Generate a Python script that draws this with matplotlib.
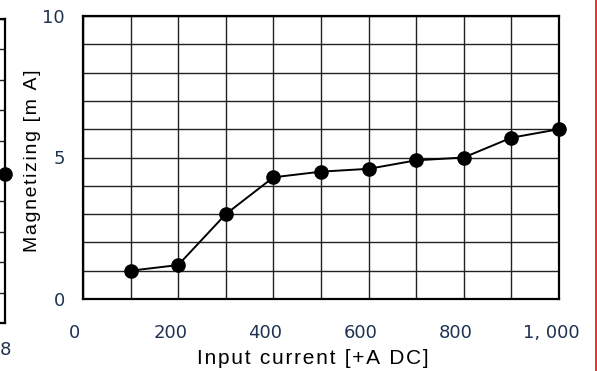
import matplotlib
matplotlib.use("Agg")
import matplotlib.pyplot as plt
import matplotlib.transforms as mtransforms

# data
currents = [100, 200, 300, 400, 500, 600, 700, 800, 900, 1000]
magnetizing = [1.0, 1.2, 3.0, 4.3, 4.5, 4.6, 4.9, 5.0, 5.7, 6.0]
xticks = [0, 200, 400, 600, 800, 1000]
xticklabels = ["0", "200", "400", "600", "800", "1, 000"]
yticks = [0, 5, 10]
xlabel = "Input current [+A DC]"
ylabel = "Magnetizing [m A]"

# fragment of the neighbouring chart cut at the left edge
frag_x = [10]
frag_y = [4.9]

tickcolor = "#1f3350"
labelfont = ["Liberation Sans", "DejaVu Sans"]

def spaced(s):
    # the original labels are drawn with loose letter spacing
    return "\u200a".join(s)

W, H = 597, 371
fig = plt.figure(figsize=(W / 100, H / 100), dpi=100)

def box(l, t, r, b):
    return [l / W, 1 - b / H, (r - l) / W, (b - t) / H]

# main chart
ax = fig.add_axes(box(83, 16, 559, 299))
ax.plot(currents, magnetizing, color="black", lw=1.4, marker="o", ms=9.5,
        clip_on=False, zorder=5)
ax.set_xlim(0, 1000)
ax.set_ylim(0, 10)
ax.set_xticks(range(0, 1001, 100), minor=True)
ax.set_yticks(range(0, 11, 1), minor=True)
ax.set_xticks(xticks)
ax.set_xticklabels(xticklabels)
ax.set_yticks(yticks)
ax.grid(True, which="both", color="#222222", lw=1.0)
ax.tick_params(which="both", length=0)
ax.tick_params(axis="x", pad=18)
ax.tick_params(axis="y", pad=13)
shift = mtransforms.ScaledTranslation(-8 / 100, 0, fig.dpi_scale_trans)
for lab in ax.get_xticklabels():
    lab.set_transform(lab.get_transform() + shift)
for lab in ax.get_xticklabels() + ax.get_yticklabels():
    lab.set_fontsize(13)
    lab.set_color(tickcolor)
for s in ax.spines.values():
    s.set_linewidth(1.6)
    s.set_color("black")

fig.text(313 / W, 1 - 359 / H, spaced(xlabel), ha="center", va="center",
         fontsize=15, family=labelfont)
fig.text(33 / W, 1 - 161 / H, spaced(ylabel), ha="center", va="center",
         rotation=90, fontsize=14, family=labelfont)

# left fragment
ax0 = fig.add_axes(box(-100, 19, 5, 323))
ax0.plot(frag_x, frag_y, color="black", marker="o", ms=9.5, clip_on=False)
ax0.set_xlim(0, 10)
ax0.set_ylim(0, 10)
ax0.set_yticks(range(0, 11))
ax0.set_xticks([])
ax0.set_yticklabels([])
ax0.grid(True, axis="y", color="#222222", lw=1.0)
ax0.tick_params(length=0)
for s in ax0.spines.values():
    s.set_linewidth(1.6)
fig.text(5 / W, 1 - 350 / H, "8", ha="center", va="center", fontsize=13,
         color=tickcolor)

# red border line on the right
fig.add_artist(plt.Line2D([596 / W, 596 / W], [0, 1], color="red", lw=1.2))

fig.savefig("out.png", dpi=100)
